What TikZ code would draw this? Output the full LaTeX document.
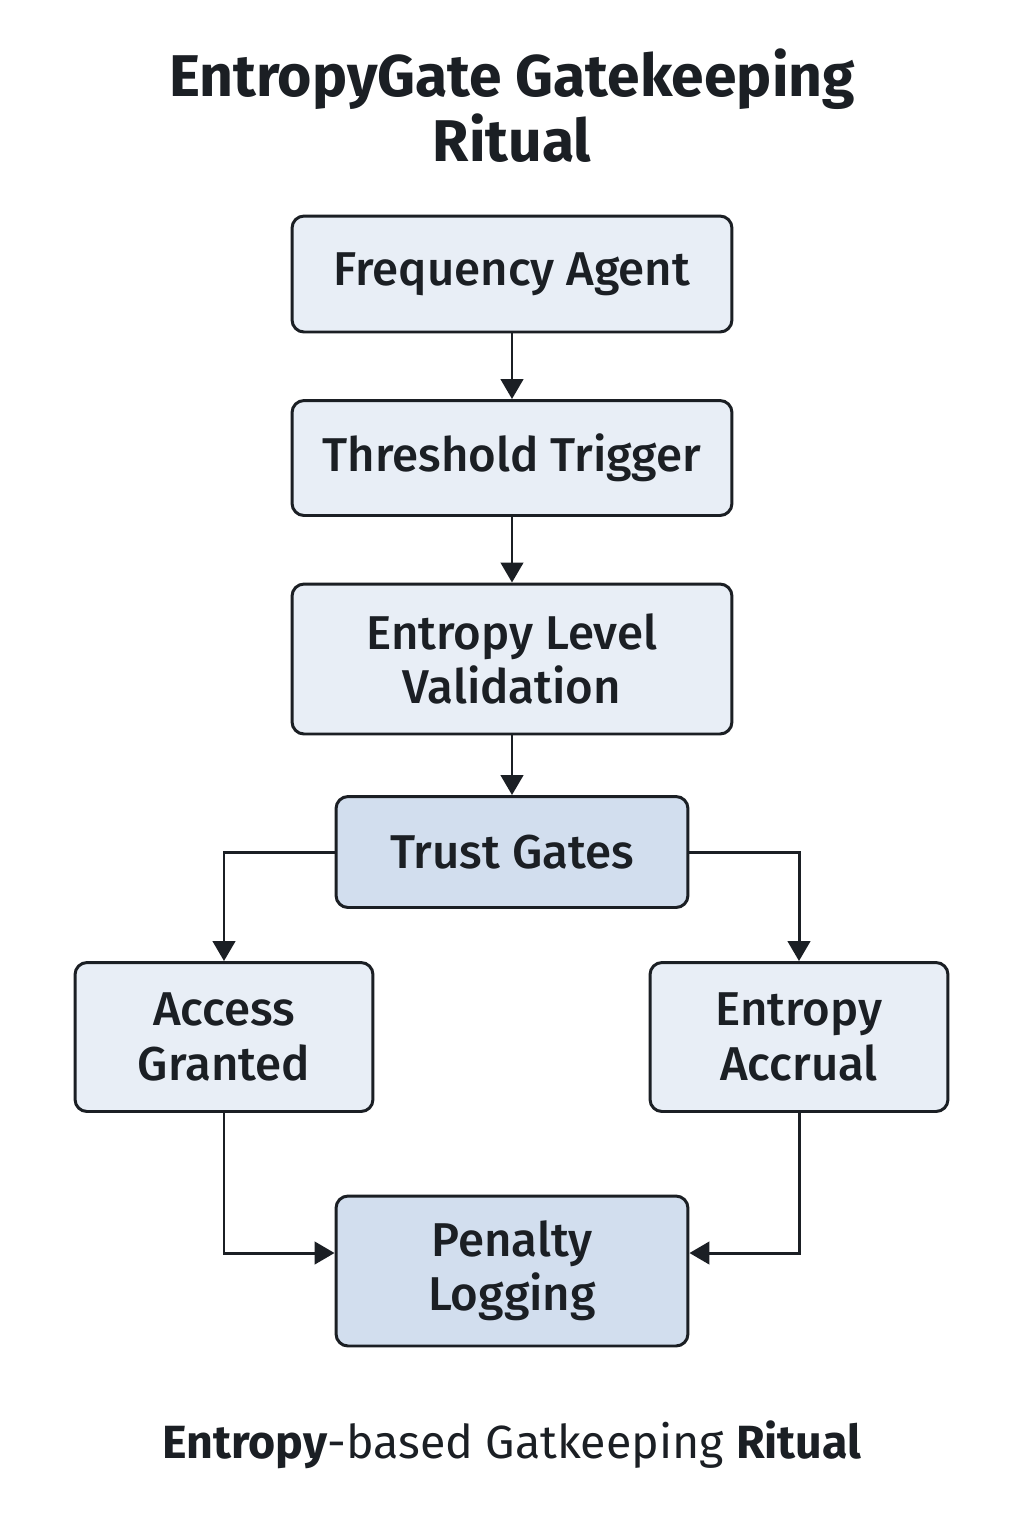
\documentclass[tikz,border=0pt]{standalone}
\usepackage{fontspec}
\setmainfont{Fira Sans}
\newfontfamily\medfont{Fira Sans Medium}
\usepackage{tikz}
\usetikzlibrary{positioning,arrows.meta,calc}

\definecolor{inkdark}{HTML}{1B1F24}
\definecolor{paleblue}{HTML}{E8EEF6}
\definecolor{gateblue}{HTML}{D2DEEE}

\begin{document}
\begin{tikzpicture}[
  x=0.02cm, y=-0.02cm,
  >={Triangle[length=0.4cm,width=0.45cm]},
  stagebox/.style={rectangle, draw=inkdark, fill=paleblue, line width=1.7pt,
    rounded corners=0.24cm, align=center, text=inkdark,
    font=\medfont\fontsize{27}{31}\selectfont, inner sep=2pt},
  gatebox/.style={stagebox, fill=gateblue},
  flowline/.style={->, draw=inkdark, line width=1.7pt}
]
  \useasboundingbox[fill=white] (0,0) rectangle (1024,1536);

  \node[text=inkdark, align=center, font=\bfseries\fontsize{33.5}{37}\selectfont] (title) at (512,106)
    {EntropyGate Gatekeeping\\Ritual};

  \node[stagebox, minimum width=8.8cm, minimum height=2.32cm] (freq) at (512,274) {Frequency Agent};
  \node[stagebox, minimum width=8.8cm, minimum height=2.30cm] (thresh) at (512,458) {Threshold Trigger};
  \node[stagebox, minimum width=8.8cm, minimum height=3.00cm] (level) at (512,659) {Entropy Level\\Validation};
  \node[gatebox, minimum width=7.04cm, minimum height=2.22cm] (trust) at (512,852) {Trust Gates};
  \node[stagebox, minimum width=5.96cm, minimum height=2.98cm] (access) at (224,1037) {Access\\Granted};
  \node[stagebox, minimum width=5.96cm, minimum height=2.98cm] (accrual) at (799,1037) {Entropy\\Accrual};
  \node[gatebox, minimum width=7.04cm, minimum height=3.00cm] (penalty) at (512,1271) {Penalty\\Logging};

  \draw[flowline] (freq) -- (thresh);
  \draw[flowline] (thresh) -- (level);
  \draw[flowline] (level) -- (trust);
  \draw[flowline] (trust.west) -| (access.north);
  \draw[flowline] (trust.east) -| (accrual.north);
  \coordinate (penin) at ($(penalty.west)+(0,-18)$);
  \coordinate (penout) at ($(penalty.east)+(0,-18)$);
  \draw[flowline] (access.south) |- (penin);
  \draw[flowline] (accrual.south) |- (penout);

  \node[text=inkdark, font=\fontsize{26.5}{30}\selectfont] (caption) at (512,1445)
    {\textbf{Entropy}-based Gatkeeping \textbf{Ritual}};
\end{tikzpicture}
\end{document}
